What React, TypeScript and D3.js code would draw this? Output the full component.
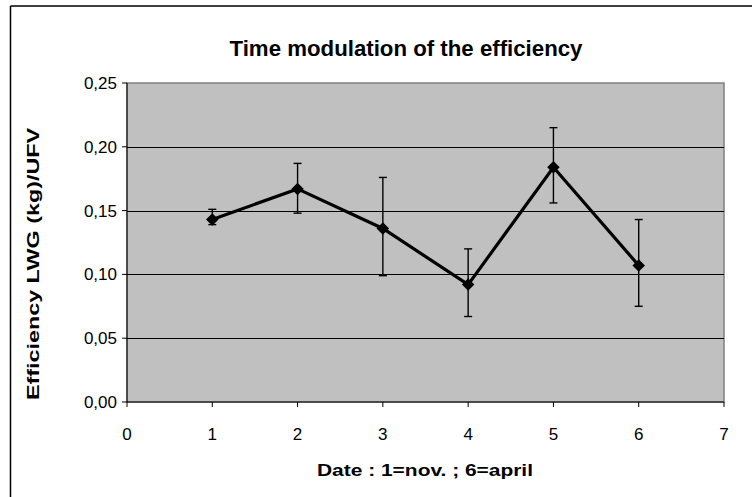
import React from 'react';
import * as d3 from 'd3';

const dates = [1, 2, 3, 4, 5, 6];
const efficiency = [0.143, 0.167, 0.136, 0.092, 0.184, 0.107];
const errLow = [0.139, 0.148, 0.099, 0.067, 0.156, 0.075];
const errHigh = [0.151, 0.187, 0.176, 0.120, 0.215, 0.143];
const xTicks = [0, 1, 2, 3, 4, 5, 6, 7];
const yTicks = [0, 0.05, 0.1, 0.15, 0.2, 0.25];

const W = 752;
const H = 497;
const plot = { left: 127, right: 724, top: 83, bottom: 402 };

export default function App() {
  const x = d3.scaleLinear().domain([0, 7]).range([plot.left, plot.right]);
  const y = d3.scaleLinear().domain([0, 0.25]).range([plot.bottom, plot.top]);
  const fmt = (v: number) => d3.format('.2f')(v).replace('.', ',');

  const line = d3.line<number>()
    .x((_, i) => x(dates[i]))
    .y(d => y(d));

  const diamond = d3.symbol().type(d3.symbolDiamond2).size(100)();

  return (
    <svg width={W} height={H} style={{ position: 'absolute', left: 0, top: 0, fontFamily: '"Liberation Sans", Arial, sans-serif' }}>
      <rect x={0} y={0} width={W} height={H} fill="#fff" />
      {/* chart frame (only top/left visible) */}
      <line x1={10.5} y1={6} x2={W} y2={6} stroke="#000" strokeWidth={1.5} />
      <line x1={10.5} y1={6} x2={10.5} y2={H} stroke="#000" strokeWidth={1.5} />

      <text x={406} y={56} textAnchor="middle" fontSize={22} fontWeight="bold"
        textLength={353} lengthAdjust="spacingAndGlyphs">
        Time modulation of the efficiency
      </text>

      {/* plot area */}
      <rect x={plot.left} y={plot.top} width={plot.right - plot.left} height={plot.bottom - plot.top}
        fill="#c0c0c0" stroke="#808080" strokeWidth={1.5} />

      {yTicks.filter(t => t > 0 && t < 0.25).map(t => (
        <line key={t} x1={plot.left} x2={plot.right} y1={Math.round(y(t)) + 0.5} y2={Math.round(y(t)) + 0.5}
          stroke="#000" strokeWidth={1} />
      ))}

      {/* axes */}
      <line x1={plot.left} x2={plot.left} y1={plot.top} y2={plot.bottom} stroke="#000" strokeWidth={1} />
      <line x1={plot.left} x2={plot.right} y1={plot.bottom} y2={plot.bottom} stroke="#000" strokeWidth={1} />

      {yTicks.map(t => (
        <g key={t}>
          <line x1={plot.left - 5} x2={plot.left} y1={y(t)} y2={y(t)} stroke="#000" />
          <text x={117} y={y(t) + 6} textAnchor="end" fontSize={17}>{fmt(t)}</text>
        </g>
      ))}
      {xTicks.map(t => (
        <g key={t}>
          <line x1={x(t)} x2={x(t)} y1={plot.bottom} y2={plot.bottom + 5} stroke="#000" />
          <text x={x(t)} y={440} textAnchor="middle" fontSize={17}>{t}</text>
        </g>
      ))}

      <text x={425} y={476} textAnchor="middle" fontSize={16} fontWeight="bold"
        textLength={216} lengthAdjust="spacingAndGlyphs">
        Date : 1=nov. ; 6=april
      </text>
      <text transform={`translate(39,264) rotate(-90)`} textAnchor="middle"
        fontSize={16} fontWeight="bold" textLength={272} lengthAdjust="spacingAndGlyphs">
        Efficiency LWG (kg)/UFV
      </text>

      {/* error bars */}
      {dates.map((d, i) => (
        <g key={'e' + d} stroke="#000" strokeWidth={1.4}>
          <line x1={x(d)} x2={x(d)} y1={y(errLow[i])} y2={y(errHigh[i])} />
          <line x1={x(d) - 4} x2={x(d) + 4} y1={y(errLow[i])} y2={y(errLow[i])} />
          <line x1={x(d) - 4} x2={x(d) + 4} y1={y(errHigh[i])} y2={y(errHigh[i])} />
        </g>
      ))}

      <path d={line(efficiency) || ''} fill="none" stroke="#000" strokeWidth={3.2} />

      {dates.map((d, i) => (
        <path key={'m' + d} d={diamond || ''} transform={`translate(${x(d)},${y(efficiency[i])})`} fill="#000" />
      ))}
    </svg>
  );
}
